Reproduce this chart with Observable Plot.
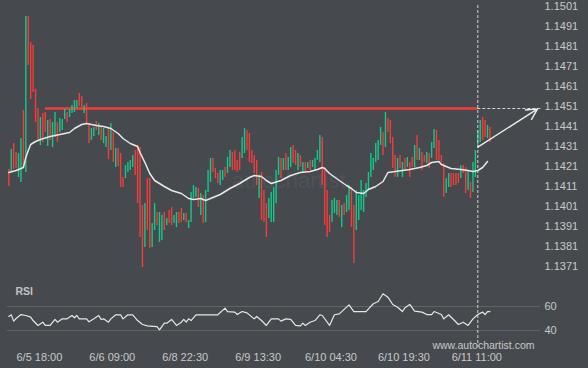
<!DOCTYPE html>
<html><head><meta charset="utf-8">
<script src="https://cdn.jsdelivr.net/npm/d3@7"></script>
<script src="https://cdn.jsdelivr.net/npm/@observablehq/plot@0.6"></script>
<style>
html,body{margin:0;padding:0;background:#464a4e;}
#wrap{position:relative;width:588px;height:368px;overflow:hidden;background:#464a4e;font-family:"Liberation Sans",Arial,sans-serif;}
#wm{position:absolute;left:232px;top:170px;font-size:22px;line-height:1;color:#4e5257;white-space:nowrap;}
#topPanel,#botPanel{position:absolute;left:0;}
#topPanel{top:0px}
#botPanel{top:280px}
svg{overflow:visible}
</style></head><body>
<div id="wrap"><div id="wm">autochartist</div><div id="topPanel"></div><div id="botPanel"></div></div>
<script>
// ---- data (30-minute candles, index 0 = first candle) ----
const dir = ("RGRRGGRGRR"+"RRRGRRGRGG"+"RGGGRGGGGR"+"RGRRGGRGRG"+"GRGRGRRRGG"+
             "GGRRRRGRRG"+"GRGGRGRRGG"+"RRGRGGGGRG"+"RGGGRRRGGR"+"GGRRRRGGRR"+
             "RRRGRRRGGG"+"GGRGRGGRRG"+"RGRGRGGGGR"+"RRRGGGRGRG"+"GRRGGGGGGG"+
             "GGGGRGRRRR"+"GRGRGRRGRG"+"RRGRGGRRRR"+"GGRRRRGRRG"+"RGGGGRRGR").split("");
const high = [
1.14195,1.14295,1.14325,1.1428,1.14275,1.1435,1.1449,1.1496,1.1496,1.1483,
1.14815,1.14595,1.145,1.14455,1.14475,1.1448,1.1444,1.14445,1.1443,1.1448,
1.1443,1.1445,1.14445,1.14495,1.1448,1.14495,1.14515,1.1454,1.1454,1.14575,
1.1456,1.14515,1.14525,1.14425,1.144,1.14405,1.14435,1.14425,1.1441,1.144,
1.1436,1.144,1.14425,1.1438,1.143,1.143,1.14275,1.14155,1.14215,1.1423,
1.1424,1.14265,1.1429,1.14315,1.14305,1.14015,1.14025,1.1415,1.1415,1.13925,
1.14025,1.1398,1.1398,1.13965,1.1398,1.1395,1.1399,1.14005,1.13965,1.1398,
1.1398,1.14,1.13975,1.13975,1.1394,1.1408,1.14115,1.14105,1.141,1.14075,
1.14065,1.1409,1.1419,1.1425,1.1425,1.142,1.14175,1.1419,1.1419,1.14205,
1.14255,1.1429,1.1428,1.1429,1.1424,1.1428,1.14355,1.144,1.1439,1.14375,
1.1429,1.14265,1.1424,1.14165,1.1418,1.1409,1.14025,1.1405,1.1408,1.14105,
1.1419,1.14255,1.1425,1.1425,1.14275,1.14255,1.14305,1.14315,1.1429,1.14275,
1.14265,1.1423,1.1423,1.1423,1.1424,1.1424,1.1425,1.1429,1.14365,1.14355,
1.14205,1.1409,1.13965,1.1404,1.1405,1.1404,1.1404,1.14015,1.14025,1.14065,
1.14115,1.14105,1.14015,1.1409,1.14065,1.1414,1.1409,1.14125,1.1418,1.14275,
1.1425,1.14325,1.1434,1.14405,1.1438,1.1448,1.1445,1.1444,1.14355,1.14265,
1.1425,1.14265,1.1423,1.1425,1.14255,1.1423,1.14255,1.14315,1.14365,1.143,
1.1428,1.14265,1.1428,1.14275,1.1433,1.14395,1.1439,1.1434,1.14265,1.14225,
1.1415,1.14175,1.14175,1.14175,1.14175,1.14175,1.14215,1.14215,1.14205,1.1419,
1.1413,1.1423,1.1429,1.1439,1.1444,1.14455,1.1444,1.14415,1.14405];
const low = [
1.1411,1.1418,1.14195,1.142,1.14155,1.1413,1.142,1.1418,1.14715,1.14545,
1.1458,1.1443,1.1434,1.14315,1.1433,1.1438,1.1431,1.1434,1.14305,1.14355,
1.1433,1.1438,1.1439,1.14445,1.1443,1.14455,1.14475,1.1448,1.145,1.1451,
1.1449,1.14475,1.14425,1.14325,1.1434,1.1436,1.1439,1.14365,1.1434,1.14325,
1.14305,1.14245,1.1429,1.1423,1.14205,1.1421,1.14105,1.14105,1.1415,1.1418,
1.1419,1.14205,1.14165,1.14025,1.13855,1.13705,1.13805,1.1389,1.138,1.13805,
1.1389,1.13915,1.1383,1.1384,1.1389,1.13915,1.13925,1.13915,1.13925,1.13905,
1.13925,1.1393,1.1394,1.1393,1.139,1.1393,1.1405,1.14055,1.14005,1.13965,
1.13925,1.1393,1.1408,1.1413,1.1418,1.1415,1.14125,1.14115,1.1414,1.14155,
1.14175,1.14205,1.1419,1.1419,1.1418,1.1419,1.1425,1.14275,1.1429,1.1423,
1.14225,1.14175,1.14115,1.1405,1.1394,1.1393,1.13855,1.1395,1.1393,1.1393,
1.14025,1.14165,1.1415,1.1419,1.1419,1.1419,1.14205,1.14225,1.14215,1.1419,
1.14205,1.14175,1.1418,1.142,1.1419,1.14205,1.1419,1.1424,1.1423,1.14115,
1.13915,1.13855,1.1388,1.1393,1.13975,1.13965,1.13955,1.13905,1.13965,1.1398,
1.1399,1.13905,1.13725,1.1389,1.1394,1.1399,1.1398,1.14055,1.1409,1.14155,
1.1419,1.1423,1.1424,1.14315,1.14265,1.14305,1.1438,1.14325,1.142,1.14155,
1.14155,1.142,1.14155,1.1419,1.14205,1.14155,1.14205,1.14205,1.1424,1.1424,
1.1419,1.1423,1.14225,1.142,1.1425,1.143,1.1424,1.1424,1.1423,1.14055,
1.14075,1.14105,1.14105,1.14115,1.14115,1.14125,1.1415,1.14175,1.14075,1.1409,
1.1405,1.1408,1.14155,1.14305,1.1433,1.1434,1.14355,1.1435,1.1433];
const maIdx = [0,3,6,7,8,9,11,13,17,21,25,27,30,32,36,39,42,45,47,50,53,54,56,58,60,64,67,71,74,76,79,81,83,87,91,95,99,101,104,106,108,112,116,120,124,127,129,130,132,136,139,141,143,146,148,151,154,156,159,165,169,172,174,177,178,182,186,189,191,193,195,197];
const maVal = [1.1418,1.1419,1.14205,1.14255,1.1429,1.1432,1.14335,1.14345,1.1436,1.1437,1.1438,1.144,1.1442,1.14425,1.14415,1.1441,1.144,1.14375,1.1435,1.14325,1.1431,1.1428,1.1423,1.14175,1.1414,1.1411,1.1409,1.14075,1.1405,1.14045,1.1405,1.1404,1.1405,1.1407,1.141,1.14125,1.14155,1.14165,1.1416,1.1414,1.14125,1.1414,1.14165,1.1418,1.14185,1.14195,1.14205,1.142,1.14175,1.1414,1.14115,1.141,1.1408,1.14075,1.14095,1.1411,1.14135,1.1418,1.14185,1.14195,1.14205,1.14215,1.1423,1.14235,1.1422,1.142,1.14195,1.1419,1.14185,1.1419,1.14205,1.14235];
const rsiIdx = [0,1,2,3,5,7,9,10,12,14,15,17,19,20,22,24,26,27,28,29,32,33,35,37,38,39,41,42,44,46,47,49,51,53,55,57,61,62,64,65,67,69,71,72,73,74,75,77,82,86,89,90,93,94,96,98,101,102,104,106,108,111,112,114,116,118,120,121,122,124,126,128,129,132,134,136,140,142,147,150,152,154,156,158,160,162,163,165,167,170,172,174,175,178,179,181,183,185,187,189,191,193,195,196,197,198];
const rsiVal = [51.7,53.1,47.8,50,53.3,52.5,51.1,48.3,44.2,46.9,44.2,44.2,49.2,46.9,49.7,49.7,52.5,50.6,52.5,49.7,49.7,47.2,49.7,52.5,49.2,49.7,46.9,49.7,53.1,53.1,49.7,53.1,53.1,48.3,45,43.9,43.3,40.6,46.1,46.1,49.2,44.2,46.9,49.2,46.9,49.7,48.3,53.1,53.1,53.1,58.6,55.8,55.3,53.3,55.8,54.7,49.7,51.7,48.3,44.2,49.7,49.7,47.8,49.7,49.2,44.2,43.9,46.1,44.2,46.9,48.3,53.1,52.5,44.2,53.1,53.9,61.4,55.8,55.8,62.3,64.2,70.6,67.8,61.7,59.4,55.8,58.9,61.7,56.1,55.3,53.3,53.3,55.8,53.3,49.7,53.1,49.2,45,46.9,44.2,49.7,53.3,55.3,53.3,55.8,55.8];
const priceTicks = [1.1371,1.1381,1.1391,1.1401,1.1411,1.1421,1.1431,1.1441,1.1451,1.1461,1.1471,1.1481,1.1491,1.1501];
const rsiTicks = [40, 60];
const timeTickIdx = [13, 43, 73, 103, 133, 163, 193];
const timeLabels = ["6/5 18:00","6/6 09:00","6/8 22:30","6/9 13:30","6/10 04:30","6/10 19:30","6/11 11:00"];
const resistance = 1.1450;      // horizontal level
const levelStartIdx = 15;       // level first touched
const breakIdx = 193;           // pattern identified
const projStart = {idx: 193, price: 1.14307};
const projEnd = {idx: 217.6, price: 1.14498};

// ---- build ----
const candles = high.map((h, i) => ({i, high: h, low: low[i], up: dir[i] === "G"}));
const ma = maIdx.map((i, k) => ({i, v: maVal[k]}));
const rsi = rsiIdx.map((i, k) => ({i, v: rsiVal[k]}));
const GREEN = "#12c98b", RED = "#f53c3c", TXT = "#c6c8ca";
const font = '"Liberation Sans", Arial, sans-serif';
const xs = {type: "linear", domain: [-3.42, 217.98], range: [0, 538], axis: null};

const priceChart = Plot.plot({
  width: 588, height: 280, marginLeft: 0, marginRight: 50, marginTop: 0, marginBottom: 0,
  style: {background: "transparent", color: TXT, fontFamily: font, fontSize: "11px"},
  x: xs,
  y: {domain: [1.1364, 1.1504], range: [280, 0], axis: null, label: null},
  marks: [
    Plot.ruleY([resistance], {x1: levelStartIdx, x2: breakIdx, stroke: RED, strokeWidth: 2.5}),
    Plot.ruleY([resistance], {x1: breakIdx, x2: 219, stroke: "#d6d6d6", strokeWidth: 1, strokeDasharray: "3,2"}),
    Plot.ruleX(candles.filter(d => d.up), {x: "i", y1: "low", y2: "high", stroke: GREEN, strokeWidth: 1.4}),
    Plot.ruleX(candles.filter(d => !d.up), {x: "i", y1: "low", y2: "high", stroke: RED, strokeWidth: 1.4}),
    Plot.line(ma, {x: "i", y: "v", stroke: "#e8e8e8", strokeWidth: 1.5}),
    Plot.ruleX([breakIdx], {stroke: "#d0d0d0", strokeWidth: 1, strokeDasharray: "3,2", insetTop: 5}),
    Plot.arrow([projStart], {x1: () => projStart.idx, y1: () => projStart.price, x2: () => projEnd.idx, y2: () => projEnd.price,
      stroke: "#ececec", strokeWidth: 1.4, headLength: 13, headAngle: 55}),
    Plot.axisY({anchor: "right", label: null, ticks: priceTicks, tickFormat: d => d.toFixed(4), tickSize: 0, tickPadding: 6, fill: TXT, fontSize: 11})
  ]
});
document.getElementById("topPanel").append(priceChart);

const rsiChart = Plot.plot({
  width: 588, height: 88, marginLeft: 0, marginRight: 50, marginTop: 0, marginBottom: 0,
  style: {background: "transparent", color: TXT, fontFamily: font, fontSize: "11px"},
  x: xs,
  y: {domain: [0, 100], range: [98, -22], axis: null, label: null},
  marks: [
    Plot.ruleY(rsiTicks, {stroke: "#5f6367", strokeWidth: 1, insetLeft: 7, insetRight: -2}),
    Plot.line(rsi, {x: "i", y: "v", stroke: "#e6e6e6", strokeWidth: 1.2}),
    Plot.ruleX([breakIdx], {stroke: "#d0d0d0", strokeWidth: 1, strokeDasharray: "3,2", insetBottom: 21}),
    Plot.axisY({anchor: "right", label: null, ticks: rsiTicks, tickSize: 0, tickPadding: 6, fill: TXT, fontSize: 11}),
    Plot.text(timeTickIdx, {x: d => d, text: (d, i) => timeLabels[i], frameAnchor: "bottom", lineAnchor: "middle", dy: -11, dx: -1, fill: TXT, fontSize: 11}),
    Plot.text(["RSI"], {frameAnchor: "top-left", dx: 15, dy: 11, textAnchor: "start", lineAnchor: "middle", fontWeight: "bold", fontSize: 10.5, fill: "#c0c2c4"}),
    Plot.text(["www.autochartist.com"], {frameAnchor: "top-right", dx: -4, dy: 65, textAnchor: "end", lineAnchor: "middle", fontSize: 10.5, fill: TXT, letterSpacing: 0.3})
  ]
});
document.getElementById("botPanel").append(rsiChart);
</script>
</body></html>
